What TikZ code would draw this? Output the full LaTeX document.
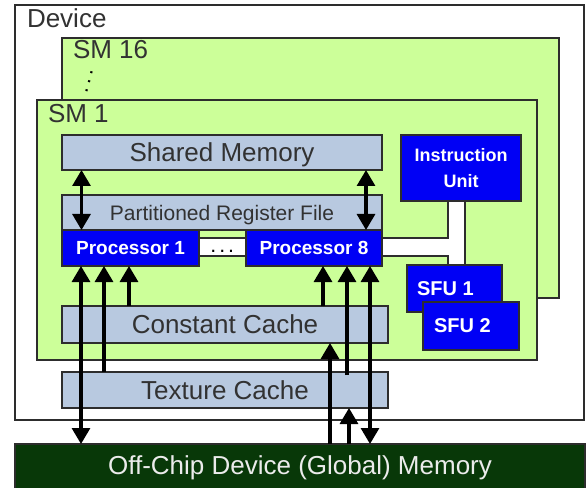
\documentclass[tikz,border=0pt]{standalone}
\usepackage{fontspec}
\setmainfont{Liberation Sans}
\usetikzlibrary{arrows.meta}
\definecolor{smgreen}{RGB}{204,255,153}
\definecolor{cachebox}{RGB}{184,201,224}
\definecolor{procblue}{RGB}{0,0,245}
\definecolor{memgreen}{RGB}{8,56,8}
\definecolor{bord}{RGB}{45,45,45}
\definecolor{txt}{RGB}{50,50,50}
\newcommand\rbox[7]{\node[#6, minimum width={(#4-#2)*0.75pt}, minimum height={(#5-#3)*0.75pt}] (#1) at ({(#2+#4)/2},{(#3+#5)/2}) {#7};}
\begin{document}
\begin{tikzpicture}[x=0.75pt,y=-0.75pt,
  every node/.style={inner sep=0pt, outer sep=0pt},
  frame/.style={draw=bord, line width=1.1pt, rectangle},
  devbox/.style={frame, fill=white},
  smbox/.style={frame, fill=smgreen},
  cbox/.style={frame, fill=cachebox, text=txt, font=\fontsize{19.5}{23}\selectfont, text height=14pt, text depth=0pt},
  rfbox/.style={frame, fill=cachebox, text=txt, font=\fontsize{15.75}{19}\selectfont, text height=11.3pt, text depth=0pt},
  pbox/.style={frame, fill=procblue, text=white, font=\bfseries\fontsize{14.25}{17}\selectfont, text height=10.2pt, text depth=0pt},
  ibox/.style={frame, fill=procblue, text=white, align=center, font=\bfseries\fontsize{13.5}{19.5}\selectfont},
  sbox/.style={frame, fill=procblue},
  dotbox/.style={frame, fill=white},
  membox/.style={draw=bord, line width=1.1pt, fill=memgreen, rectangle},
  bigtxt/.style={text=txt, font=\fontsize{19.5}{23}\selectfont, anchor=base west},
  sfutxt/.style={text=white, font=\bfseries\fontsize{15}{18}\selectfont, anchor=base west},
  dottxt/.style={text=black, font=\fontsize{16}{16}\selectfont, anchor=base, text height=2pt, text depth=0pt},
  arr/.style={line width=2.3pt, draw=black, -{Triangle[width=13.5pt,length=12pt]}},
  darr/.style={line width=2.3pt, draw=black, {Triangle[width=13.5pt,length=12pt]}-{Triangle[width=13.5pt,length=12pt]}}
]
\useasboundingbox (0,0) rectangle (588,488);
\rbox{dev}{15}{5}{584}{420}{devbox}{}
\rbox{sm16}{62}{38}{559}{298}{smbox}{}
\rbox{sm1}{37}{100}{537}{360}{smbox}{}
\node[bigtxt] (tdev) at (27,28) {Device};
\node[bigtxt] (tsm16) at (73,59) {SM 16};
\node[dottxt, rotate=-105] (vdots) at (88,81) {.\kern2.6pt.\kern2.6pt.};
\node[bigtxt] (tsm1) at (48,123) {SM 1};
\rbox{shm}{62}{135}{382}{170}{cbox}{Shared Memory}
\rbox{reg}{62}{195}{382}{230}{rfbox}{Partitioned Register File}
\rbox{dots}{199}{238}{246}{256}{dotbox}{}
\node[dottxt] (tdots) at (222.3,252) {.\kern2.2pt.\kern2.2pt.};
\rbox{p1}{62}{230}{199}{266}{pbox}{Processor 1}
\rbox{p8}{246}{230}{382}{266}{pbox}{Processor 8}
\rbox{iu}{401}{135}{521}{201}{ibox}{Instruction\\Unit}
\rbox{sfu1}{407}{265}{502}{312}{sbox}{}
\node[sfutxt] (tsfu1) at (417,295) {SFU 1};
\rbox{sfu2}{423}{302}{519}{350}{sbox}{}
\node[sfutxt] (tsfu2) at (434,332) {SFU 2};
\draw[draw=bord, line width=1.1pt, fill=white] (p8.east |- 0,238) -- (448,238) -- (448,0 |- iu.south) -- (465,0 |- iu.south) -- (465,0 |- sfu1.north) -- (448,0 |- sfu1.north) -- (448,256) -- (p8.east |- 0,256) -- cycle;
\rbox{cc}{62}{306}{388}{343}{cbox}{Constant Cache}
\rbox{tc}{62}{372}{388}{408}{cbox}{Texture Cache}
\rbox{mem}{15}{444}{585}{494}{membox}{}
\node[text={rgb,255:red,235;green,235;blue,235}, font=\fontsize{19.5}{23}\selectfont, anchor=base] (tmem) at (300,474) {Off-Chip Device (Global) Memory};
% arrows
\draw[darr] (81.5,0 |- shm.south) -- (81.5,0 |- p1.north);
\draw[darr] (366,0 |- shm.south) -- (366,0 |- p8.north);
\draw[darr] (81,0 |- p1.south) -- (81,0 |- mem.north);
\draw[arr] (104,0 |- tc.north) -- (104,0 |- p1.south);
\draw[arr] (129,0 |- cc.north) -- (129,0 |- p1.south);
\draw[arr] (323,0 |- cc.north) -- (323,0 |- p8.south);
\draw[arr] (347,375) -- (347,0 |- p8.south);
\draw[darr] (370,0 |- p8.south) -- (370,0 |- mem.north);
\draw[arr] (330,0 |- mem.north) -- (330,0 |- cc.south);
\draw[arr] (349,0 |- mem.north) -- (349,0 |- tc.south);
\end{tikzpicture}
\end{document}
